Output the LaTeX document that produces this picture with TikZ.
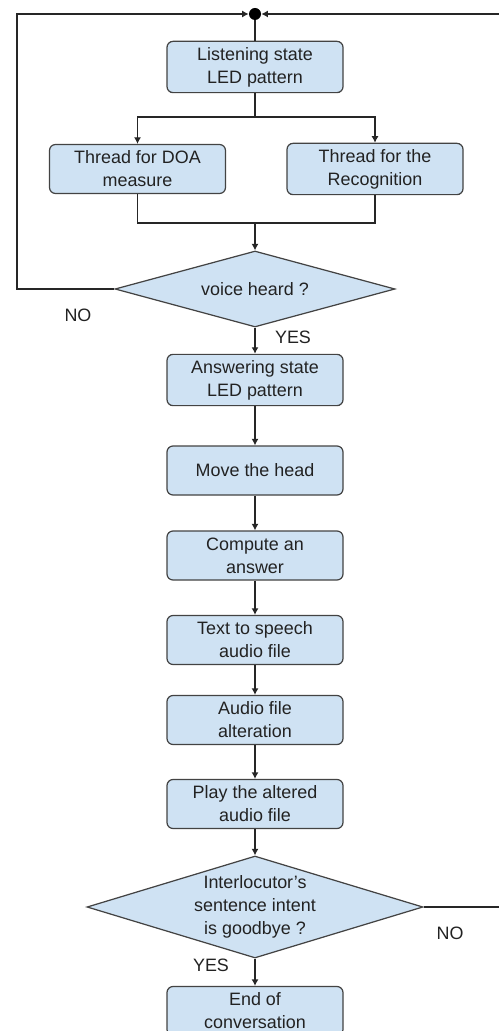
\documentclass[tikz,border=0pt]{standalone}
\usepackage{fontspec}
\setmainfont{Liberation Sans}
\usetikzlibrary{shapes.geometric,arrows.meta}

\definecolor{boxblue}{HTML}{CFE2F3}
\definecolor{edgegray}{HTML}{434343}
\definecolor{textgray}{HTML}{222222}

\begin{document}
\begin{tikzpicture}[scale=1,
    box/.style={draw=edgegray, fill=boxblue, rounded corners=0.12cm, line width=0.7pt,
        minimum width=3.52cm, minimum height=0.98cm, align=center, text=textgray,
        font=\fontsize{10.2}{13}\selectfont},
    decision/.style={diamond, draw=edgegray, fill=boxblue, line width=0.7pt, inner sep=0pt,
        align=center, text=textgray, font=\fontsize{10.2}{13}\selectfont},
    link/.style={line width=0.7pt, draw=black!85},
    flow/.style={link, -{Latex[length=1.3mm,width=1.4mm]}},
    answer/.style={text=textgray, font=\fontsize{10.2}{13}\selectfont}
]

    % Fix the page to the size of the original picture
    \useasboundingbox (0,0) rectangle (9.96,-20.62);

    % Junction point where both loops come back
    \node[circle, fill=black, inner sep=0pt, minimum size=0.24cm] (dot) at (5.1,-0.28) {};

    % Listening part
    \node[box] (listen) at (5.1,-1.34) {Listening state\\LED pattern};
    \node[box] (doa) at (2.75,-3.38) {Thread for DOA\\measure};
    \node[box] (recog) at (7.5,-3.38) {Thread for the\\Recognition};
    \node[decision, minimum width=5.6cm, minimum height=1.52cm, aspect=3.68] (voice) at (5.1,-5.78) {voice heard ?};

    % Answering part
    \node[box] (answer) at (5.1,-7.6) {Answering state\\LED pattern};
    \node[box] (move) at (5.1,-9.41) {Move the head};
    \node[box] (compute) at (5.1,-11.11) {Compute an\\answer};
    \node[box] (tts) at (5.1,-12.8) {Text to speech\\audio file};
    \node[box] (alter) at (5.1,-14.4) {Audio file\\alteration};
    \node[box] (play) at (5.1,-16.08) {Play the altered\\audio file};
    \node[decision, minimum width=6.72cm, minimum height=2.04cm, aspect=3.29] (goodbye) at (5.1,-18.14) {Interlocutor's\\sentence intent\\is goodbye ?};
    \node[box] (end) at (5.1,-20.22) {End of\\conversation};

    % Helper points for the branches and loops
    \coordinate (split) at (5.1,-2.34);
    \coordinate (join) at (5.1,-4.46);
    \coordinate (loopL) at (0.34,-0.28);
    \coordinate (loopR) at (9.99,-0.28);

    % Connectors
    \draw[link] (dot) -- (listen);
    \draw[link] (listen) -- (split);
    \draw[flow] (split) -| (doa);
    \draw[flow] (split) -| (recog);
    \draw[link] (doa) |- (join) -| (recog);
    \draw[flow] (join) -- (voice);
    \draw[flow] (voice.west) -| (loopL) -- (dot);
    \draw[flow] (voice) -- (answer);
    \draw[flow] (answer) -- (move);
    \draw[flow] (move) -- (compute);
    \draw[flow] (compute) -- (tts);
    \draw[flow] (tts) -- (alter);
    \draw[flow] (alter) -- (play);
    \draw[flow] (play) -- (goodbye);
    \draw[flow] (goodbye) -- (end);
    \draw[flow] (goodbye.east) -| (loopR) -- (dot);

    % Answers of the two questions
    \node[answer] (no1) at (1.56,-6.3) {NO};
    \node[answer] (yes1) at (5.86,-6.74) {YES};
    \node[answer] (no2) at (9.0,-18.66) {NO};
    \node[answer] (yes2) at (4.22,-19.3) {YES};

\end{tikzpicture}
\end{document}
